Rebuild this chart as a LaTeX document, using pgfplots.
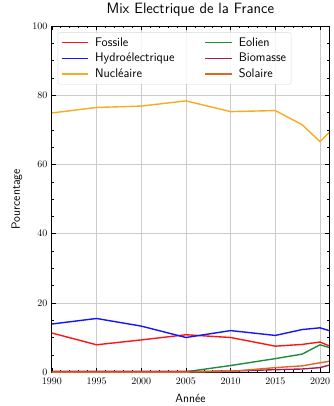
\documentclass[border=0pt]{standalone}
\usepackage{pgfplots}
\pgfplotsset{compat=1.18}
\definecolor{cfos}{RGB}{255,20,20}
\definecolor{chyd}{RGB}{20,20,255}
\definecolor{cnuc}{RGB}{250,170,30}
\definecolor{ceol}{RGB}{30,140,60}
\definecolor{cbio}{RGB}{160,30,90}
\definecolor{csol}{RGB}{220,105,35}
\begin{document}
\begin{tikzpicture}
\begin{axis}[
  at={(0,0)}, anchor=south west,
  scale only axis, width=278pt, height=347pt,
  xmin=1990, xmax=2021, ymin=0, ymax=100,
  xtick={1990,1995,...,2020}, ytick={0,20,...,100},
  minor x tick num=4, minor y tick num=3,
  xticklabel style={/pgf/number format/1000 sep={}, yshift=-2.5pt},
  yticklabel style={xshift=-1pt},
  tick align=inside, tick pos=both,
  major tick length=4pt, minor tick length=2pt,
  grid=major, major grid style={gray!40, line width=0.7pt},
  axis line style={line width=0.8pt},
  every tick/.style={black, line width=0.6pt},
  title={\sffamily Mix Electrique de la France},
  title style={font=\fontsize{15}{17}\selectfont, at={(axis description cs:0.5,1)}, anchor=base, yshift=6.5pt},
  xlabel={\sffamily Année}, ylabel={\sffamily Pourcentage},
  xlabel style={font=\fontsize{12}{14}\selectfont, at={(axis description cs:0.5,0)}, anchor=base, yshift=-30pt},
  ylabel style={font=\fontsize{12}{14}\selectfont, at={(axis description cs:-0.115,0.5)}, anchor=base},
  legend columns=2,
  legend style={at={(axis cs:1990.65,98.2)}, anchor=north west, font=\fontsize{12.5}{14}\selectfont\sffamily,
    rounded corners=2pt, draw=gray!30, fill=white, fill opacity=0.85, text opacity=1,
    inner xsep=3pt, inner ysep=3pt,
    /tikz/every odd column/.append style={column sep=4pt},
    /tikz/every even column/.append style={column sep=28pt}, row sep=1.5pt},
  legend cell align=left,
  every axis plot/.append style={line width=1.4pt},
  legend image code/.code={\draw[#1, line width=1.4pt] (0pt,0pt) -- (27pt,0pt);},
]
\addplot[cfos] coordinates {(1990,11.3)(1995,7.9)(2000,9.3)(2005,10.8)(2010,10.0)(2015,7.5)(2018,8.0)(2020,8.7)(2021,7.6)};
\addlegendentry{Fossile}
\addplot[ceol] coordinates {(1990,0)(1995,0)(2000,0)(2005,0.1)(2010,1.9)(2015,3.9)(2018,5.2)(2020,7.9)(2021,7.1)};
\addlegendentry{Eolien}
\addplot[chyd] coordinates {(1990,13.9)(1995,15.5)(2000,13.3)(2005,10.0)(2010,12.0)(2015,10.6)(2018,12.3)(2020,12.8)(2021,12.0)};
\addlegendentry{Hydroélectrique}
\addplot[cbio] coordinates {(1990,0.2)(1995,0.2)(2000,0.2)(2005,0.2)(2010,0.3)(2015,0.7)(2018,0.9)(2020,1.3)(2021,2.0)};
\addlegendentry{Biomasse}
\addplot[cnuc] coordinates {(1990,74.9)(1995,76.5)(2000,76.9)(2005,78.4)(2010,75.3)(2015,75.6)(2018,71.5)(2020,66.6)(2021,69.2)};
\addlegendentry{Nucléaire}
\addplot[csol] coordinates {(1990,0)(1995,0)(2000,0)(2005,0)(2010,0.2)(2015,1.3)(2018,1.8)(2020,2.7)(2021,3.1)};
\addlegendentry{Solaire}
\end{axis}
\path[use as bounding box] (-52pt,-34pt) rectangle (283pt,372pt);
\end{tikzpicture}
\end{document}
